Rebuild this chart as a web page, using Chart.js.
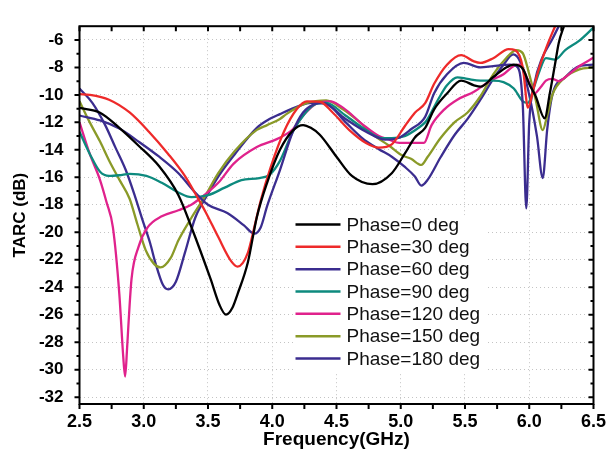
<!DOCTYPE html>
<html>
<head>
<meta charset="utf-8">
<script src="https://cdn.jsdelivr.net/npm/chart.js@4.4.1/dist/chart.umd.min.js"></script>
<style>
  html, body { margin: 0; padding: 0; background: #fff; }
</style>
</head>
<body>
<canvas id="tarc" width="613" height="456"></canvas>
<script>
// ---- axis ticks ----
const xTicks = [2.5, 3.0, 3.5, 4.0, 4.5, 5.0, 5.5, 6.0, 6.5];
const xMinor = [2.75, 3.25, 3.75, 4.25, 4.75, 5.25, 5.75, 6.25];
const yTicks = [-6, -8, -10, -12, -14, -16, -18, -20, -22, -24, -26, -28, -30, -32];
const yMinor = [-7, -9, -11, -13, -15, -17, -19, -21, -23, -25, -27, -29, -31];

// ---- TARC curves, [frequency GHz, dB] ----
const phase0 = [[2.5,-10.95],[2.66,-11.3],[2.81,-12.4],[2.96,-13.7],[3.12,-15.2],[3.27,-17.3],[3.37,-19.6],[3.52,-23.4],[3.59,-25.3],[3.64,-26.0],[3.69,-25.5],[3.73,-24.5],[3.81,-22.2],[3.88,-18.9],[3.96,-16.4],[4.06,-14.0],[4.16,-12.6],[4.24,-12.2],[4.3,-12.4],[4.37,-12.9],[4.5,-14.5],[4.62,-15.9],[4.78,-16.5],[4.93,-15.7],[5.03,-14.3],[5.11,-13.1],[5.19,-12.4],[5.26,-11.05],[5.36,-9.9],[5.47,-8.96],[5.57,-9.3],[5.62,-9.4],[5.72,-8.7],[5.82,-8.0],[5.88,-7.8],[5.95,-8.1],[6.0,-9.2],[6.05,-10.1],[6.12,-11.7],[6.16,-9.9],[6.2,-7.8],[6.23,-6.2],[6.27,-5.0],[6.32,-3.6]];
const phase30 = [[2.5,-9.95],[2.58,-10.0],[2.73,-10.35],[2.89,-11.28],[3.04,-12.68],[3.19,-14.3],[3.32,-15.9],[3.42,-17.5],[3.48,-18.5],[3.58,-20.35],[3.68,-22.1],[3.73,-22.5],[3.81,-21.5],[3.86,-19.65],[3.91,-17.7],[3.99,-15.2],[4.09,-12.7],[4.19,-11.05],[4.27,-10.47],[4.37,-10.5],[4.47,-11.28],[4.6,-12.56],[4.73,-13.5],[4.83,-13.84],[4.93,-13.6],[5.03,-12.3],[5.11,-11.3],[5.19,-10.6],[5.26,-9.19],[5.36,-7.8],[5.47,-7.1],[5.57,-7.56],[5.62,-7.67],[5.72,-7.33],[5.84,-6.67],[5.89,-6.74],[5.95,-8.0],[5.99,-10.93],[6.03,-9.65],[6.07,-8.26],[6.13,-6.63],[6.18,-5.47],[6.24,-4.2]];
const phase60 = [[2.5,-11.5],[2.66,-11.86],[2.81,-12.45],[2.96,-13.4],[3.12,-14.5],[3.27,-15.7],[3.4,-17.1],[3.5,-18.0],[3.65,-18.6],[3.78,-19.5],[3.86,-20.1],[3.91,-19.65],[3.96,-18.1],[4.06,-15.47],[4.16,-12.68],[4.24,-11.28],[4.32,-10.7],[4.39,-10.58],[4.57,-11.75],[4.73,-12.68],[4.88,-13.26],[4.98,-13.14],[5.08,-12.5],[5.19,-11.6],[5.26,-9.88],[5.36,-8.5],[5.49,-7.67],[5.62,-8.0],[5.72,-7.9],[5.85,-7.8],[5.9,-7.9],[5.95,-10.8],[5.977,-18.26],[6.0,-12.0],[6.04,-9.19],[6.1,-7.33],[6.18,-5.93],[6.23,-5.0],[6.3,-3.8]];
const phase90 = [[2.5,-12.68],[2.58,-14.3],[2.66,-15.6],[2.73,-15.9],[2.81,-15.85],[2.89,-15.75],[3.02,-15.9],[3.14,-16.4],[3.27,-17.1],[3.37,-17.44],[3.5,-17.3],[3.63,-16.75],[3.76,-16.2],[3.9,-16.05],[3.98,-15.8],[4.06,-14.8],[4.16,-12.68],[4.26,-11.28],[4.34,-10.65],[4.42,-10.58],[4.57,-11.5],[4.73,-12.56],[4.85,-13.14],[4.93,-13.14],[5.03,-13.0],[5.13,-12.45],[5.19,-12.0],[5.21,-11.75],[5.29,-10.35],[5.36,-9.3],[5.44,-8.72],[5.52,-8.84],[5.62,-8.96],[5.72,-8.96],[5.8,-9.07],[5.88,-9.54],[5.95,-10.47],[5.99,-10.58],[6.03,-9.65],[6.08,-8.26],[6.13,-7.33],[6.2,-7.44],[6.28,-6.74],[6.39,-6.05],[6.5,-5.1]];
const phase120 = [[2.5,-12.0],[2.58,-14.3],[2.66,-16.2],[2.71,-17.8],[2.76,-19.65],[2.81,-24.5],[2.84,-29.0],[2.855,-30.5],[2.87,-28.5],[2.88,-26.86],[2.905,-23.4],[2.96,-21.05],[3.03,-19.65],[3.14,-18.84],[3.27,-18.4],[3.37,-18.0],[3.42,-17.67],[3.58,-16.4],[3.7,-15.0],[3.88,-13.8],[4.04,-13.2],[4.16,-12.5],[4.24,-11.5],[4.35,-10.6],[4.45,-10.47],[4.55,-10.93],[4.71,-12.2],[4.83,-13.0],[4.91,-13.26],[4.99,-13.5],[5.09,-13.5],[5.18,-13.5],[5.24,-12.2],[5.34,-11.05],[5.44,-10.35],[5.57,-9.77],[5.7,-8.96],[5.8,-8.5],[5.88,-7.9],[5.93,-7.8],[5.98,-8.72],[6.02,-9.54],[6.04,-9.9],[6.09,-9.42],[6.13,-8.96],[6.18,-8.84],[6.23,-9.0],[6.28,-8.72],[6.39,-7.9],[6.5,-7.3]];
const phase150 = [[2.5,-10.47],[2.58,-12.0],[2.66,-13.4],[2.73,-14.77],[2.81,-16.17],[2.89,-17.56],[2.95,-19.4],[3.015,-21.3],[3.08,-22.3],[3.13,-22.56],[3.21,-21.87],[3.27,-20.58],[3.37,-18.96],[3.48,-17.33],[3.58,-15.7],[3.71,-14.07],[3.88,-12.55],[3.96,-12.2],[4.06,-11.75],[4.11,-11.4],[4.19,-10.93],[4.27,-10.58],[4.42,-10.4],[4.55,-11.05],[4.68,-11.98],[4.8,-13.0],[4.91,-13.7],[5.01,-14.4],[5.08,-14.65],[5.16,-15.1],[5.21,-14.5],[5.31,-13.14],[5.42,-11.98],[5.52,-11.28],[5.62,-10.1],[5.72,-8.5],[5.82,-7.33],[5.9,-6.74],[5.95,-6.97],[6.0,-8.5],[6.05,-10.35],[6.105,-12.56],[6.14,-11.5],[6.18,-10.0],[6.28,-8.72],[6.39,-8.14],[6.5,-8.0]];
const phase180 = [[2.5,-9.54],[2.6,-10.58],[2.7,-12.2],[2.78,-13.84],[2.86,-15.47],[2.93,-17.33],[2.99,-19.1],[3.05,-20.8],[3.09,-22.2],[3.15,-23.84],[3.19,-24.15],[3.25,-23.6],[3.32,-21.5],[3.4,-18.96],[3.5,-17.2],[3.58,-15.94],[3.71,-14.3],[3.88,-12.4],[3.96,-11.86],[4.06,-11.4],[4.21,-10.8],[4.3,-10.58],[4.42,-10.65],[4.57,-11.98],[4.7,-13.14],[4.83,-13.95],[4.93,-14.5],[5.03,-15.23],[5.11,-15.94],[5.16,-16.6],[5.21,-16.17],[5.31,-14.54],[5.42,-12.9],[5.52,-11.75],[5.62,-10.35],[5.72,-8.84],[5.8,-7.8],[5.875,-7.05],[5.93,-7.6],[6.0,-10.0],[6.06,-13.0],[6.105,-16.05],[6.14,-12.5],[6.18,-10.0],[6.28,-8.72],[6.39,-7.9],[6.5,-7.8]];

const labels = ['Phase=0 deg', 'Phase=30 deg', 'Phase=60 deg', 'Phase=90 deg', 'Phase=120 deg', 'Phase=150 deg', 'Phase=180 deg'];
const colors = ['#000000', '#ee2a2a', '#3b2d8f', '#0d8a7e', '#e0228c', '#8a9a28', '#3b2d8f'];
const series = [phase0, phase30, phase60, phase90, phase120, phase150, phase180];

const FONT = '"Liberation Sans", Arial, sans-serif';

// box frame with inward/outward tick marks on all four sides
const frameTicks = {
    id: 'frameTicks',
    afterDraw(chart){
        const {ctx, chartArea: a, scales: {x, y}} = chart;
        ctx.save();
        ctx.strokeStyle = '#000';
        ctx.lineWidth = 2;
        ctx.strokeRect(a.left, a.top, a.right - a.left, a.bottom - a.top);
        ctx.beginPath();
        xTicks.concat(xMinor).forEach(v => {
            const px = x.getPixelForValue(v);
            ctx.moveTo(px, a.bottom); ctx.lineTo(px, a.bottom + 5);
            ctx.moveTo(px, a.top); ctx.lineTo(px, a.top + 5);
        });
        yTicks.forEach(v => {
            const py = y.getPixelForValue(v);
            ctx.moveTo(a.left - 5, py); ctx.lineTo(a.left, py);
            ctx.moveTo(a.right - 5, py); ctx.lineTo(a.right, py);
        });
        yMinor.forEach(v => {
            const py = y.getPixelForValue(v);
            ctx.moveTo(a.left - 3, py); ctx.lineTo(a.left, py);
            ctx.moveTo(a.right - 3, py); ctx.lineTo(a.right, py);
        });
        ctx.stroke();
        ctx.restore();
    }
};

// legend block inside the plot, white backing over the grid
const legendBlock = {
    id: 'legendBlock',
    afterDatasetsDraw(chart){
        const {ctx, chartArea: a} = chart;
        const x0 = a.left + 213.5, y0 = a.top + 189;
        ctx.save();
        ctx.fillStyle = '#fff';
        ctx.fillRect(x0, y0, 194, 158);
        ctx.font = '19px ' + FONT;
        ctx.textBaseline = 'middle';
        chart.data.datasets.forEach((ds, i) => {
            const ly = y0 + 9.3 + i * 22.33;
            ctx.strokeStyle = ds.borderColor;
            ctx.lineWidth = 2.5;
            ctx.beginPath();
            ctx.moveTo(x0 + 2.5, ly); ctx.lineTo(x0 + 47.5, ly);
            ctx.stroke();
            ctx.fillStyle = '#111';
            ctx.fillText(ds.label, x0 + 53.5, ly + 1);
        });
        ctx.restore();
    }
};

new Chart(document.getElementById('tarc'), {
    type: 'line',
    data: {
        datasets: series.map((s, i) => ({
            label: labels[i],
            data: s.map(p => ({x: p[0], y: p[1]})),
            borderColor: colors[i],
            backgroundColor: colors[i],
            borderWidth: 2.3,
            pointRadius: 0,
            cubicInterpolationMode: 'monotone',
            clip: 0
        }))
    },
    options: {
        responsive: false,
        animation: false,
        layout: { padding: { top: 10, right: 11.5, left: 0, bottom: 0 } },
        plugins: { legend: { display: false }, tooltip: { enabled: false } },
        scales: {
            x: {
                type: 'linear',
                min: 2.5, max: 6.5,
                afterBuildTicks: s => { s.ticks = xTicks.map(v => ({value: v})); },
                afterFit: s => { s.height = 52; },
                grid: { color: '#c4c4c4', lineWidth: 1, drawTicks: false },
                border: { display: false, dash: [1, 3] },
                ticks: {
                    autoSkip: false, maxRotation: 0, padding: 7, color: '#000',
                    font: { family: FONT, size: 18, weight: 'bold' },
                    callback: v => v.toFixed(1)
                },
                title: {
                    display: true, text: 'Frequency(GHz)', color: '#000',
                    font: { family: FONT, size: 19, weight: 'bold' },
                    padding: { top: 0, bottom: 5 }
                }
            },
            y: {
                min: -32.5, max: -5,
                afterBuildTicks: s => { s.ticks = yTicks.map(v => ({value: v})); },
                afterFit: s => { s.width = 79.5; },
                grid: { color: '#c4c4c4', lineWidth: 1, drawTicks: false },
                border: { display: false, dash: [1, 3] },
                ticks: {
                    autoSkip: false, padding: 16, color: '#000',
                    font: { family: FONT, size: 17, weight: 'bold' },
                    callback: v => String(v)
                },
                title: {
                    display: true, text: 'TARC (dB)', color: '#000',
                    font: { family: FONT, size: 17, weight: 'bold' },
                    padding: { top: 10, bottom: 0 }
                }
            }
        }
    },
    plugins: [frameTicks, legendBlock]
});
</script>
</body>
</html>
